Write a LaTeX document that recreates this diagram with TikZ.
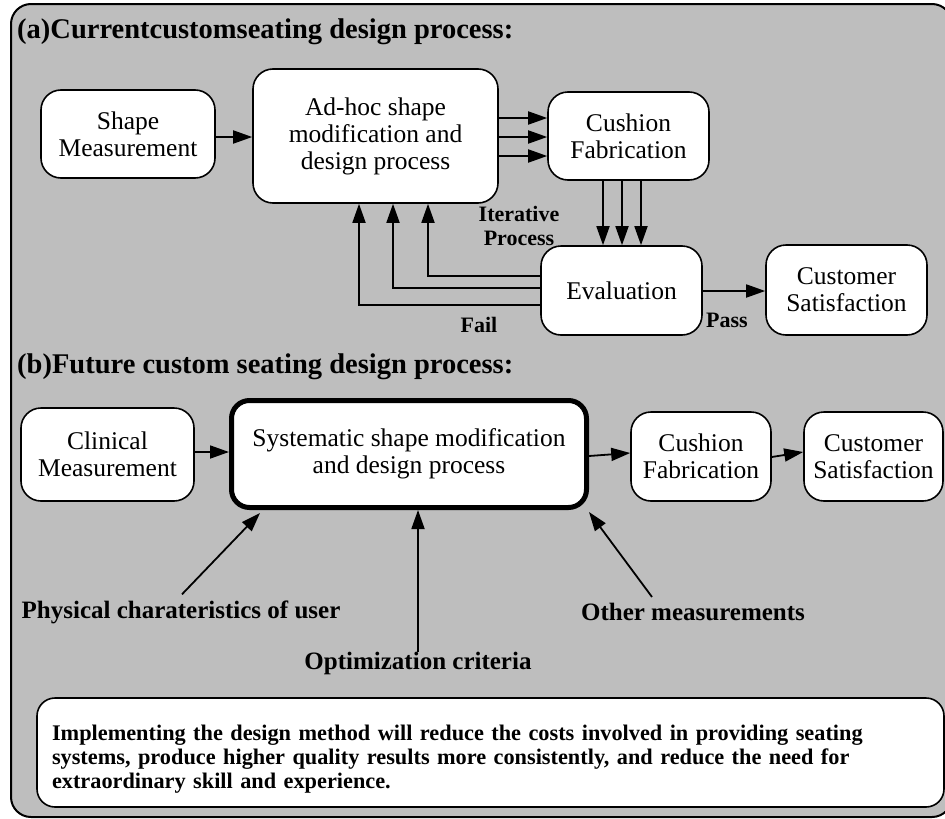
\documentclass[tikz,border=0pt]{standalone}
\usepackage{fontspec}
\setmainfont{Liberation Serif}
\usetikzlibrary{arrows.meta,calc}
\definecolor{bggray}{RGB}{190,190,190}
\begin{document}
\begin{tikzpicture}[x=1pt,y=-1pt,
  box/.style={draw, line width=1.6pt, fill=white, rounded corners=20pt, align=center,
    font=\fontsize{25.5}{27}\selectfont, inner sep=0pt},
  thickbox/.style={box, line width=5pt, rounded corners=18pt},
  arr/.style={line width=1.8pt, -{Triangle[length=19pt,width=13pt]}},
  lbl/.style={font=\bfseries\fontsize{25}{27}\selectfont, inner sep=0pt, align=center},
  smalllbl/.style={font=\bfseries\fontsize{22}{24}\selectfont, inner sep=0pt, align=center},
  titletext/.style={font=\bfseries\fontsize{28.5}{30}\selectfont, inner sep=0pt, anchor=west}]
\useasboundingbox (0,0) rectangle (945,819);
\draw[line width=2pt, fill=bggray, rounded corners=20pt] (11,4) rectangle (952,817);

% (a)
\node[titletext] (ta) at (17,32) {(a)Currentcustomseating design process:};
\node[box, minimum width=174pt, minimum height=88pt] (sm) at (128,134) {Shape\\Measurement};
\node[box, minimum width=245pt, minimum height=134pt] (ah) at (375.5,136) {Ad-hoc shape\\modification and\\design process};
\node[box, minimum width=161pt, minimum height=88pt] (cf) at (628.5,136) {Cushion\\Fabrication};
\node[box, minimum width=161pt, minimum height=89pt] (ev) at (621.5,290.5) {Evaluation};
\node[box, minimum width=161pt, minimum height=90pt] (cs) at (846.5,290) {Customer\\Satisfaction};
\node[smalllbl] (it) at (519,226) {Iterative\\Process};
\node[smalllbl] (fail) at (479,325) {Fail};
\node[smalllbl] (pass) at (727,320) {Pass};

\draw[arr] (sm.east |- 0,137) -- (ah.west |- 0,137);
\foreach \yy in {118,137,156} \draw[arr] (ah.east |- 0,\yy) -- (cf.west |- 0,\yy);
\foreach \xx in {603,622,641} \draw[arr] (\xx,0 |- cf.south) -- (\xx,0 |- ev.north);
\draw[arr] (ev.west |- 0,276) -| (428,0 |- ah.south);
\draw[arr] (ev.west |- 0,288) -| (393,0 |- ah.south);
\draw[arr] (ev.west |- 0,305) -| (359,0 |- ah.south);
\draw[arr] (ev.east |- 0,291) -- (cs.west |- 0,291);

% (b)
\node[titletext] (tb) at (17,367) {(b)Future custom seating design process:};
\node[box, minimum width=173pt, minimum height=93pt] (cm) at (107.5,454.5) {Clinical\\Measurement};
\node[thickbox, minimum width=355pt, minimum height=107pt] (sys) at (409,454) {Systematic shape modification\\and design process};
\node[box, minimum width=140pt, minimum height=89pt] (cf2) at (701,456.5) {Cushion\\Fabrication};
\node[box, minimum width=139pt, minimum height=89pt] (cs2) at (873.5,456.5) {Customer\\Satisfaction};

\draw[arr] (cm.east |- 0,452) -- (sys.west |- 0,452);
\draw[arr] (sys.east |- 0,456) -- (cf2.west |- 0,453);
\draw[arr] (cf2.east |- 0,457) -- (cs2.west |- 0,452);

\node[lbl] (phys) at (181,612) {Physical charateristics of user};
\node[lbl] (opt) at (418,663) {Optimization criteria};
\node[lbl] (oth) at (693,612) {Other measurements};

\draw[arr] ($(phys.north)+(1,-6)$) -- ($(sys.south west)+(31,3)$);
\draw[arr] (opt.north |- 0,652) -- (opt.north |- sys.south);
\draw[arr] ($(oth.north)+(-41,-6)$) -- ($(sys.south east)+(0,2)$);

\node[box, rounded corners=18pt, minimum height=109pt, text width=877pt, inner xsep=15pt,
  align=left, font=\bfseries\fontsize{22.3}{24}\selectfont] (note) at (490.5,752.5)
  {\rule{0pt}{29pt}Implementing the design method will reduce the costs involved in providing seating\\
   systems, produce higher quality results more consistently, and reduce the need for\\
   extraordinary skill and experience.};
\end{tikzpicture}
\end{document}
